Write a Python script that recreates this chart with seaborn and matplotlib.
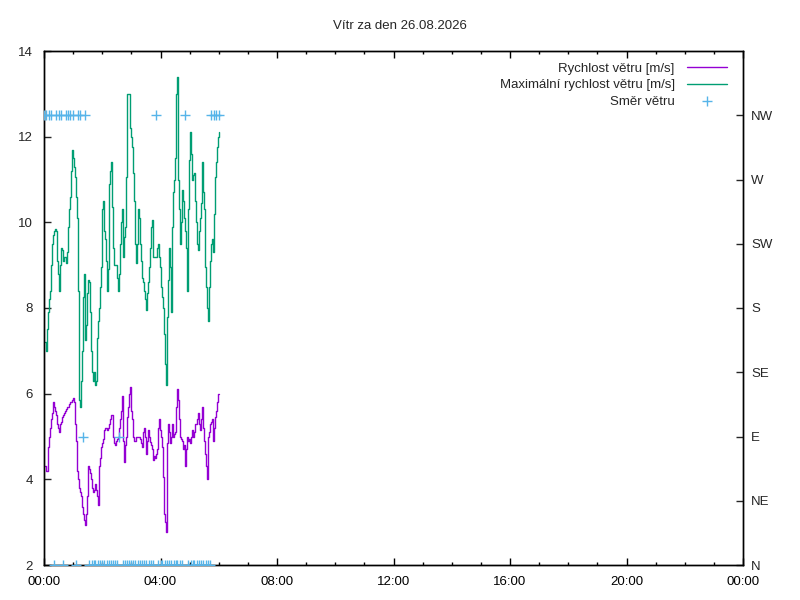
import numpy as np
import pandas as pd
import matplotlib
matplotlib.use("Agg")
import matplotlib.pyplot as plt
from matplotlib.ticker import MultipleLocator, FuncFormatter
from matplotlib.lines import Line2D
import seaborn as sns

# ---------------- data ----------------
title = "Vítr za den 26.08.2026"
label_speed = "Rychlost větru [m/s]"
label_gust = "Maximální rychlost větru [m/s]"
label_dir = "Směr větru"

# speed samples: evenly spaced from 00:01 to 06:00
sample_start_min = 1.4
sample_end_min = 360.0

speed = [
    4.3, 4.2, 4.2, 4.75, 5.0, 5.2, 5.4, 5.55, 5.8, 5.7,
    5.6, 5.5, 5.3, 5.2, 5.1, 5.3, 5.35, 5.45, 5.5, 5.55,
    5.6, 5.65, 5.7, 5.7, 5.75, 5.8, 5.8, 5.85, 5.9, 5.8,
    5.3, 4.9, 4.2, 4.0, 3.8, 3.7, 3.6, 3.35, 3.2, 3.05,
    2.93, 3.2, 3.6, 4.3, 4.25, 4.15, 4.0, 3.8, 3.7, 3.75,
    3.9, 3.75, 3.6, 3.4, 4.3, 4.5, 4.75, 4.85, 4.95, 5.15,
    5.2, 5.2, 5.15, 5.2, 5.3, 5.4, 5.5, 5.5, 5.0, 4.85,
    4.8, 4.9, 4.95, 5.0, 5.2, 5.4, 5.6, 5.95, 4.9, 4.4,
    4.8, 5.0, 5.45, 5.7, 6.0, 6.15, 5.6, 5.4, 5.0, 4.9,
    4.9, 5.0, 5.0, 5.0, 5.0, 4.95, 4.85, 4.75, 5.1, 5.2,
    5.0, 4.6, 4.9, 5.15, 5.0, 4.88, 4.8, 4.7, 4.45, 4.55,
    4.5, 4.6, 4.7, 5.2, 5.4, 5.15, 5.0, 4.75, 4.05, 3.2,
    3.0, 2.77, 4.85, 5.3, 5.1, 4.85, 5.0, 5.3, 5.0, 5.05,
    5.1, 5.7, 6.1, 5.85, 5.4, 5.0, 4.95, 4.9, 4.7, 4.8,
    4.3, 4.7, 5.0, 4.9, 4.95, 4.85, 5.0, 5.15, 5.0, 5.1,
    5.3, 5.3, 5.4, 5.55, 5.3, 5.15, 5.4, 5.7, 5.2, 4.9,
    4.6, 4.3, 4.0, 5.0, 5.1, 5.3, 5.35, 5.4, 4.9, 5.2,
    5.45, 5.6, 5.8, 6.0, 6.0,
]

gust = [
    7.2, 7.0, 7.5, 7.9, 8.2, 8.4, 9.0, 9.5, 9.7, 9.8,
    9.85, 9.8, 9.1, 8.8, 8.4, 9.0, 9.4, 9.35, 9.1, 9.2,
    9.2, 9.05, 9.3, 9.9, 10.3, 10.6, 11.2, 11.7, 11.5, 11.3,
    11.05, 10.6, 10.1, 8.4, 5.85, 5.7, 6.3, 7.0, 8.25, 8.8,
    7.25, 7.6, 8.35, 8.65, 8.6, 7.9, 7.0, 6.5, 6.3, 6.5,
    6.2, 6.3, 7.3, 7.7, 8.0, 8.5, 8.95, 10.3, 10.5, 9.8,
    9.6, 9.1, 8.4, 8.9, 10.9, 11.2, 11.4, 10.35, 9.4, 9.0,
    9.0, 9.0, 8.7, 8.4, 8.8, 9.5, 10.0, 10.3, 9.2, 9.65,
    9.9, 11.05, 13.0, 13.0, 13.0, 12.2, 12.0, 11.75, 11.15, 10.5,
    9.5, 9.05, 9.5, 10.3, 10.1, 9.5, 9.1, 8.7, 8.6, 8.4,
    8.2, 7.95, 8.35, 8.6, 8.95, 9.4, 9.9, 10.05, 9.2, 9.2,
    9.2, 9.2, 9.4, 9.5, 9.2, 8.95, 8.5, 8.25, 8.0, 7.4,
    6.7, 6.2, 7.8, 8.65, 9.4, 8.95, 7.9, 9.9, 10.7, 11.0,
    11.5, 13.0, 13.4, 11.0, 10.3, 9.5, 10.0, 10.75, 10.5, 10.1,
    9.8, 9.4, 8.4, 10.3, 11.45, 12.1, 11.6, 11.0, 11.1, 11.15,
    10.5, 10.0, 9.5, 9.35, 9.8, 10.1, 10.45, 11.4, 10.7, 10.3,
    8.95, 8.5, 8.0, 7.7, 8.5, 9.1, 9.5, 9.6, 9.3, 10.2,
    11.05, 11.4, 11.75, 12.0, 12.1,
]

# wind direction samples (minutes after midnight, compass direction)
dir_minutes = [
    1, 5, 10, 14, 21, 25, 30, 34, 39, 45, 49, 54, 59, 66, 70, 74, 80, 85,
    93, 98, 102, 106, 111, 115, 120, 124, 129, 133, 137, 142, 146, 150,
    155,
    162, 166, 170, 175, 179, 184, 188, 193, 197, 202, 206, 211, 216, 220, 225,
    230,
    235, 240, 244, 249, 253, 258, 262, 267, 271, 275, 280, 284,
    290,
    297, 302, 306, 310, 315, 319, 323, 328, 333, 337, 341,
    345, 350, 355, 360,
]
dir_compass = [
    "NW", "NW", "NW", "NW", "N", "NW", "NW", "NW", "N", "NW", "NW", "NW", "NW", "N", "NW", "NW", "E", "NW",
    "N", "N", "N", "N", "N", "N", "N", "N", "N", "N", "N", "N", "N", "N",
    "E",
    "N", "N", "N", "N", "N", "N", "N", "N", "N", "N", "N", "N", "N", "N", "N",
    "NW",
    "N", "N", "N", "N", "N", "N", "N", "N", "N", "N", "N", "N",
    "NW",
    "N", "N", "N", "N", "N", "N", "N", "N", "N", "N", "N",
    "NW", "NW", "NW", "NW",
]

compass_labels = ["N", "NE", "E", "SE", "S", "SW", "W", "NW"]
compass_degrees = [0, 45, 90, 135, 180, 225, 270, 315]

# ---------------- tables ----------------
n = len(speed)
t_hours = np.linspace(sample_start_min, sample_end_min, n) / 60.0
df = pd.DataFrame({"t": t_hours, "speed": speed, "gust": gust})
deg_map = dict(zip(compass_labels, compass_degrees))
ddf = pd.DataFrame({"t": np.array(dir_minutes) / 60.0,
                    "deg": [deg_map[c] for c in dir_compass]})

# ---------------- style ----------------
sns.set_style("white")
plt.rcParams["font.family"] = ["Liberation Sans", "DejaVu Sans"]
plt.rcParams["font.size"] = 9.5

c_speed = "#9400D3"
c_gust = "#009E73"
c_dir = "#56B4E9"

fig = plt.figure(figsize=(8, 6), dpi=100)
ax = fig.add_axes([44 / 800, 1 - 565 / 600, (743 - 44) / 800, (565 - 51) / 600])

sns.lineplot(data=df, x="t", y="speed", ax=ax, color=c_speed, lw=1,
             drawstyle="steps-post", legend=False)
sns.lineplot(data=df, x="t", y="gust", ax=ax, color=c_gust, lw=1,
             drawstyle="steps-post", legend=False)

ax2 = ax.twinx()
sns.scatterplot(data=ddf, x="t", y="deg", ax=ax2, color=c_dir, marker="+",
                s=45, linewidth=1, legend=False, zorder=5)

ax.set_xlim(0, 24)
ax.set_ylim(2, 14)
ax2.set_ylim(0, 360)
ax.set_xlabel("")
ax.set_ylabel("")
ax2.set_ylabel("")

ax.xaxis.set_major_locator(MultipleLocator(4))
ax.xaxis.set_minor_locator(MultipleLocator(1))
ax.xaxis.set_major_formatter(FuncFormatter(lambda v, p: f"{int(round(v)) % 24:02d}:00"))
ax.yaxis.set_major_locator(MultipleLocator(2))
ax.yaxis.set_major_formatter(FuncFormatter(lambda v, p: f"{int(round(v))}"))

ax2.set_yticks(compass_degrees)
ax2.set_yticklabels(compass_labels)

ax.tick_params(axis="x", which="both", direction="in", top=True, bottom=True,
               pad=8, colors="black", labelsize=9.5)
ax.tick_params(axis="x", which="major", length=5, width=1)
ax.tick_params(axis="x", which="minor", length=2.5, width=1)
ax.tick_params(axis="y", which="major", direction="in", left=True, right=False,
               length=5, width=1, pad=8, labelsize=9.5)
ax2.tick_params(axis="y", which="major", direction="in", right=True, left=False,
                length=5, width=1, pad=6, labelsize=9.5)

for a in (ax, ax2):
    for s in a.spines.values():
        s.set_color("black")
        s.set_linewidth(1)

fig.text(0.5, 1 - 26 / 600, title, ha="center", va="center", fontsize=9.5)

handles = [
    Line2D([], [], color=c_speed, lw=1),
    Line2D([], [], color=c_gust, lw=1),
    Line2D([], [], color=c_dir, lw=0, marker="+", markersize=7, markeredgewidth=1),
]
labels = [label_speed, label_gust, label_dir]
ax2.legend(handles, labels, loc="upper right", frameon=False, markerfirst=False,
           handlelength=3.0, fontsize=9.5, labelspacing=0.35,
           bbox_to_anchor=(0.990, 0.996), borderaxespad=0.3, handletextpad=0.95)

fig.savefig("out.png", dpi=100)
